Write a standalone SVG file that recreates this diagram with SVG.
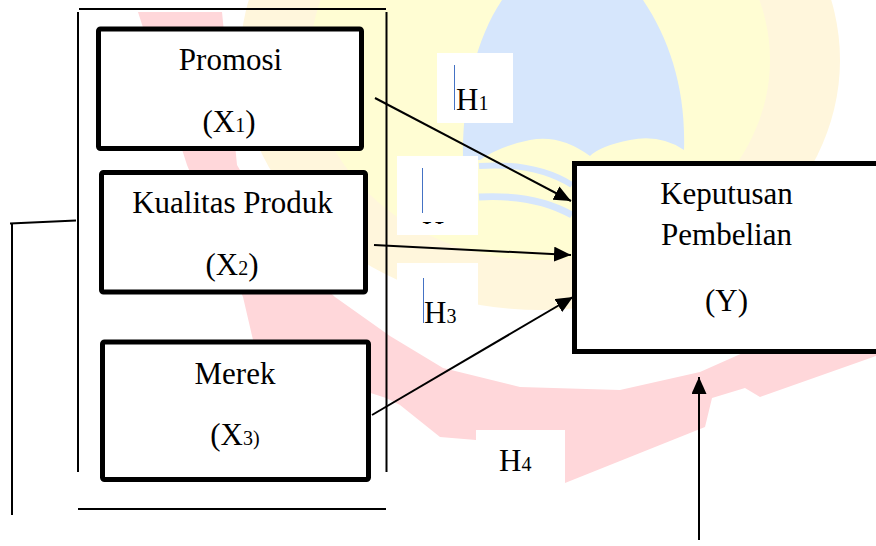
<svg xmlns="http://www.w3.org/2000/svg" width="876" height="546" viewBox="0 0 876 546">
<style>
.box{fill:#fff;stroke:#000;stroke-width:5;}
.thin{fill:none;stroke:#000;stroke-width:2;}
.con{fill:none;stroke:#000;stroke-width:2;}
.t{font-family:"Liberation Serif","Times New Roman",serif;font-size:31px;fill:#000;}
.sub{font-size:20px;}
.cur{stroke:#4472c4;stroke-width:1;}
.lab{fill:#fff;}
</style>
<defs>
<marker id="ah" markerUnits="userSpaceOnUse" markerWidth="17" markerHeight="15" refX="17" refY="7.5" orient="auto">
<path d="M0,0 L17,7.5 L0,15 Z" fill="#000"/>
</marker>
<clipPath id="h2clip"><rect x="397" y="150" width="82" height="74"/></clipPath>
</defs>
<rect width="876" height="546" fill="#fff"/>
<g id="watermark">
<ellipse cx="540" cy="60" rx="300" ry="250" fill="#fff6dc"/>
<ellipse cx="540" cy="60" rx="230" ry="200" fill="#fffdd3"/>
<path d="M502 0 L643 0 C670 40 686 90 684 150 Q660 134 630 140 Q600 146 590 156 Q560 134 530 140 Q500 146 480 160 L463 160 C462 100 475 40 502 0 Z" fill="#d6e6fc"/>
<path d="M479 166 Q535 162 572 185" fill="none" stroke="#d6e6fc" stroke-width="6"/>
<path d="M479 197 Q535 194 572 215" fill="none" stroke="#d6e6fc" stroke-width="7"/>
<polygon points="138,12 222,12 237,165 290,255 335,297 390,336 443,368 520,387 620,390 700,372 745,352 876,348 876,356 760,397 745,388 712,398 705,427 565,483 476,440 440,437 400,405 386,398 300,370 253,340 243,297 187,165" fill="#ffd7da"/>
</g>
<g id="container">
<line class="thin" x1="79" y1="9" x2="386" y2="9"/>
<line class="thin" x1="78" y1="12" x2="78" y2="472"/>
<line class="thin" x1="386.5" y1="12" x2="386.5" y2="472"/>
<line class="thin" x1="78" y1="509" x2="386" y2="509"/>
</g>
<g id="labels">
<rect class="lab" x="437" y="53" width="76" height="70"/>
<rect class="lab" x="397" y="156" width="81" height="79"/>
<rect class="lab" x="397" y="263" width="81" height="70"/>
<rect class="lab" x="476" y="430" width="89" height="70"/>
<line class="cur" x1="454.5" y1="65" x2="454.5" y2="110"/>
<text class="t" x="456" y="110">H<tspan class="sub">1</tspan></text>
<line class="cur" x1="422.5" y1="168" x2="422.5" y2="213"/>
<text class="t" x="422" y="243" clip-path="url(#h2clip)">H<tspan class="sub">2</tspan></text>
<line class="cur" x1="423.5" y1="278" x2="423.5" y2="323"/>
<text class="t" x="424" y="323">H<tspan class="sub">3</tspan></text>
<text class="t" x="499" y="471">H<tspan class="sub">4</tspan></text>
</g>
<g id="connectors">
<polyline class="con" points="10,223.5 76,220.5"/>
<line class="con" x1="12" y1="223" x2="12" y2="515"/>
<line class="con" x1="375" y1="98" x2="571" y2="201" marker-end="url(#ah)"/>
<line class="con" x1="374" y1="245" x2="571" y2="255" marker-end="url(#ah)"/>
<line class="con" x1="372" y1="415" x2="573" y2="297" marker-end="url(#ah)"/>
<line class="con" x1="699" y1="540" x2="699" y2="377" marker-end="url(#ah)"/>
</g>
<g id="promosi">
<rect class="box" x="98.5" y="29" width="263" height="119.5" rx="2"/>
<text class="t" x="230.5" y="70" text-anchor="middle">Promosi</text>
<text class="t" x="229" y="132" text-anchor="middle">(X<tspan class="sub">1</tspan>)</text>
</g>
<g id="kualitas">
<rect class="box" x="101.5" y="172.5" width="264" height="119.5" rx="2"/>
<text class="t" x="232.5" y="213" text-anchor="middle">Kualitas Produk</text>
<text class="t" x="232" y="275" text-anchor="middle">(X<tspan class="sub">2</tspan>)</text>
</g>
<g id="merek">
<rect class="box" x="102.5" y="342" width="266" height="137.5" rx="2"/>
<text class="t" x="235" y="384" text-anchor="middle">Merek</text>
<text class="t" x="235" y="445" text-anchor="middle">(X<tspan class="sub">3)</tspan></text>
</g>
<g id="keputusan">
<rect class="box" x="574.5" y="163.5" width="320" height="188"/>
<text class="t" x="726.5" y="204" text-anchor="middle">Keputusan</text>
<text class="t" x="726.5" y="245" text-anchor="middle">Pembelian</text>
<text class="t" x="726.5" y="311" text-anchor="middle">(Y)</text>
</g>
</svg>
